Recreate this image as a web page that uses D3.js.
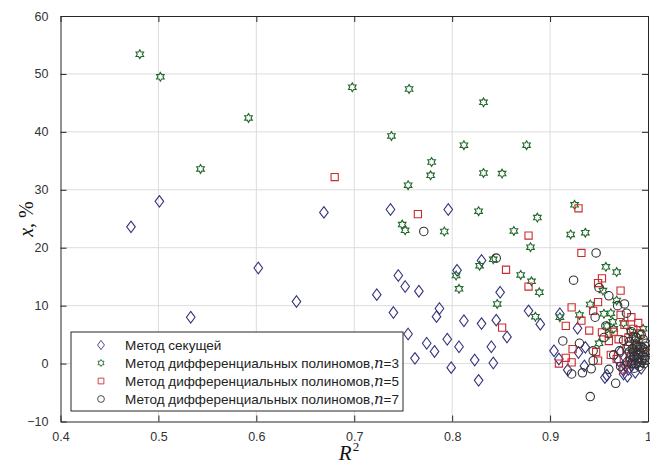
<!DOCTYPE html>
<html>
<head>
<meta charset="utf-8">
<script src="https://cdn.jsdelivr.net/npm/d3@7"></script>
<style>
  body { margin: 0; background: #fff; }
  svg { display: block; }
  .tick text { font-family: "Liberation Sans", Arial, sans-serif; font-size: 12.5px; fill: #333; }
</style>
</head>
<body>
<svg id="chart" width="650" height="468"></svg>
<script>
/*globals d3*/

// Метод секущей (diamonds)
var secantR2 = [0.472, 0.501, 0.533, 0.602, 0.641, 0.669, 0.723, 0.737, 0.740, 0.745, 0.752, 0.755,
    0.762, 0.766, 0.774, 0.782, 0.784, 0.787, 0.795, 0.796, 0.799, 0.805, 0.807, 0.812, 0.823, 0.827,
    0.830, 0.830, 0.840, 0.842, 0.845, 0.849, 0.856, 0.878, 0.890, 0.904, 0.909, 0.910, 0.918, 0.928,
    0.929, 0.935, 0.936, 0.956, 0.958, 0.970, 0.975, 0.977, 0.980, 0.982, 0.984, 0.987, 0.988, 0.990,
    0.993, 0.996, 0.972, 0.974, 0.979, 0.983, 0.985];
var secantX = [23.6, 28.0, 8.0, 16.5, 10.7, 26.1, 11.9, 26.6, 8.8, 15.2, 13.3, 5.1,
    0.9, 12.5, 3.5, 2.1, 8.1, 9.5, 4.2, 26.6, -0.7, 16.1, 2.9, 7.4, 0.6, -2.9,
    6.9, 17.8, 2.9, 0.1, 7.5, 12.3, 4.6, 9.1, 6.8, 2.2, 0.8, 8.6, -1.1, 6.1,
    1.9, -0.4, 2.8, -2.4, -2.0, 0.5, -1.8, -0.4, -1.0, 1.5, 0.5, -1.5, 2.0, 0.2,
    -0.8, 1.0, 2.0, -1.0, -2.2, -0.3, 1.2];

// n = 3 (hexagrams)
var poly3R2 = [0.481, 0.502, 0.543, 0.592, 0.698, 0.738, 0.749, 0.752, 0.755, 0.756, 0.778, 0.779,
    0.792, 0.804, 0.807, 0.812, 0.827, 0.828, 0.832, 0.832, 0.842, 0.846, 0.851, 0.863, 0.870, 0.876,
    0.880, 0.881, 0.885, 0.887, 0.889, 0.910, 0.921, 0.925, 0.930, 0.936, 0.941, 0.950, 0.954, 0.955,
    0.957, 0.960, 0.962, 0.965, 0.968, 0.968, 0.975, 0.982, 0.985, 0.990, 0.995, 0.958, 0.964];
var poly3X = [53.4, 49.5, 33.6, 42.4, 47.7, 39.3, 24.0, 23.0, 30.8, 47.4, 32.5, 34.8,
    22.8, 15.2, 12.9, 37.7, 26.3, 16.9, 45.1, 32.9, 18.0, 10.3, 32.8, 22.9, 15.3, 37.7,
    20.1, 14.2, 8.1, 25.2, 12.3, 8.0, 22.3, 27.4, 8.4, 22.6, 10.2, 3.5, 12.6, 8.6,
    16.7, 5.0, 8.7, 6.0, 15.8, 10.9, 7.0, 5.5, 2.5, 4.5, 6.0, 6.5, 7.2];

// n = 5 (squares)
var poly5R2 = [0.680, 0.765, 0.851, 0.855, 0.878, 0.878, 0.909, 0.916, 0.916, 0.922, 0.922, 0.923,
    0.929, 0.932, 0.932, 0.940, 0.944, 0.947, 0.949, 0.949, 0.949, 0.953, 0.953, 0.960, 0.965, 0.968,
    0.972, 0.972, 0.976, 0.978, 0.980, 0.983, 0.985, 0.988, 0.990, 0.992, 0.995, 0.962, 0.970, 0.975,
    0.981];
var poly5X = [32.2, 25.8, 6.2, 16.2, 22.1, 13.3, 0.0, 6.5, 1.0, 9.7, 0.2, 2.5,
    26.8, 19.1, 7.4, 5.7, 9.1, 2.0, 0.5, 10.6, 13.9, 14.7, 5.4, 3.9, 5.5, 0.8,
    12.6, 8.4, 6.7, 2.5, 4.5, 8.0, 6.0, 3.0, 7.0, 5.2, 2.0, 1.5, 4.2, -1.0,
    0.5];

// n = 7 (circles)
var poly7R2 = [0.771, 0.845, 0.913, 0.922, 0.924, 0.930, 0.933, 0.941, 0.942, 0.944, 0.944, 0.946,
    0.947, 0.950, 0.955, 0.957, 0.960, 0.960, 0.965, 0.967, 0.969, 0.971, 0.972, 0.975, 0.976, 0.978,
    0.979, 0.980, 0.981, 0.982, 0.983, 0.985, 0.986, 0.987, 0.988, 0.989, 0.990, 0.991, 0.992, 0.993,
    0.994, 0.995, 0.996, 0.997, 0.998, 0.981, 0.984, 0.986, 0.988, 0.990, 0.992, 0.994, 0.996, 0.998,
    0.983, 0.987, 0.991, 0.995, 0.999, 0.985, 0.989, 0.993, 0.997];
var poly7X = [22.8, 18.2, 3.9, -1.8, 14.4, 3.5, -1.6, -5.7, -0.9, 0.5, 2.2, 8.0,
    19.1, 13.1, 4.5, 6.5, 11.7, -1.0, 1.5, -3.4, 10.0, 2.2, -0.5, 4.0, 10.3, 8.7,
    0.3, 3.0, 2.0, 1.0, 5.5, 2.0, -0.8, 0.0, 4.5, 2.8, 1.5, -0.5, 3.0, 5.0,
    0.5, 4.2, 2.5, 1.0, 3.5, 3.8, 2.6, 1.2, 3.2, 0.8, 1.8, 2.8, 0.0, 2.0,
    0.0, 3.9, 2.4, 1.4, 0.6, 4.6, 1.0, 0.2, 3.0];

var xTicks = [0.4, 0.5, 0.6, 0.7, 0.8, 0.9, 1];
var yTicks = [-10, 0, 10, 20, 30, 40, 50, 60];
var legendLabels = ["Метод секущей", "Метод дифференциальных полиномов,", "Метод дифференциальных полиномов,", "Метод дифференциальных полиномов,"];
var legendOrders = [null, 3, 5, 7];

(function () {
    "use strict";

    var svg, plotLeft, plotRight, plotTop, plotBottom, x, y, shapes, series, lg;

    function hexagram(r) {
        var pts = d3.range(12).map(function (i) {
            var a = -Math.PI / 2 + i * Math.PI / 6,
                rr = i % 2 === 0 ? r : r / Math.sqrt(3);
            return [rr * Math.cos(a), rr * Math.sin(a)];
        });
        return "M" + pts.join("L") + "Z";
    }

    shapes = {
        diamond: "M0,-5.8L4.3,0L0,5.8L-4.3,0Z",
        star: hexagram(4.4),
        square: "M-3.6,-3.6L3.6,-3.6L3.6,3.6L-3.6,3.6Z",
        circle: d3.symbol(d3.symbolCircle, 56)()
    };

    series = [
        {r2: secantR2, x: secantX, shape: "diamond", color: "#34347e"},
        {r2: poly3R2, x: poly3X, shape: "star", color: "#1f6a2a"},
        {r2: poly5R2, x: poly5X, shape: "square", color: "#cc2a30"},
        {r2: poly7R2, x: poly7X, shape: "circle", color: "#333333"}
    ];

    svg = d3.select("#chart");
    plotLeft = 60.5;
    plotRight = 648;
    plotTop = 16;
    plotBottom = 421.5;

    x = d3.scaleLinear().domain([0.4, 1]).range([plotLeft, plotRight]);
    y = d3.scaleLinear().domain([-10, 60]).range([plotBottom, plotTop]);

    // grid
    svg.append("g").selectAll("line").data(xTicks.slice(1, -1)).enter().append("line")
        .attr("x1", function (d) { return x(d); }).attr("x2", function (d) { return x(d); })
        .attr("y1", plotTop).attr("y2", plotBottom)
        .attr("stroke", "#dcdcdc").attr("stroke-width", 1);
    svg.append("g").selectAll("line").data(yTicks.slice(1, -1)).enter().append("line")
        .attr("y1", function (d) { return y(d); }).attr("y2", function (d) { return y(d); })
        .attr("x1", plotLeft).attr("x2", plotRight)
        .attr("stroke", "#dcdcdc").attr("stroke-width", 1);

    // axes, box on
    svg.append("g").attr("transform", "translate(0," + plotBottom + ")")
        .call(d3.axisBottom(x).tickValues(xTicks).tickSizeInner(-6).tickSizeOuter(0).tickPadding(11)
            .tickFormat(function (d) { return d === 1 ? "1" : d3.format(".1f")(d); }));
    svg.append("g").attr("transform", "translate(" + plotLeft + ",0)")
        .call(d3.axisLeft(y).tickValues(yTicks).tickSizeInner(-6).tickSizeOuter(0).tickPadding(12));
    svg.append("g").attr("transform", "translate(0," + plotTop + ")")
        .call(d3.axisTop(x).tickValues(xTicks).tickSizeInner(-6).tickSizeOuter(0).tickFormat(""));
    svg.append("g").attr("transform", "translate(" + plotRight + ",0)")
        .call(d3.axisRight(y).tickValues(yTicks).tickSizeInner(-6).tickSizeOuter(0).tickFormat(""));
    svg.selectAll(".domain").attr("stroke", "#262626");
    svg.selectAll(".tick line").attr("stroke", "#262626");

    // points
    series.forEach(function (s) {
        svg.append("g").selectAll("path").data(d3.range(s.r2.length)).enter().append("path")
            .attr("d", shapes[s.shape])
            .attr("transform", function (i) { return "translate(" + x(s.r2[i]) + "," + y(s.x[i]) + ")"; })
            .attr("fill", "none")
            .attr("stroke", s.color)
            .attr("stroke-width", 1.1);
    });

    // legend
    lg = svg.append("g");
    lg.append("rect").attr("x", 71).attr("y", 332).attr("width", 332).attr("height", 79)
        .attr("fill", "#fff").attr("stroke", "#262626").attr("stroke-width", 1);
    series.forEach(function (s, i) {
        var cy = 345 + i * 18,
            t;
        lg.append("path").attr("d", shapes[s.shape])
            .attr("transform", "translate(101," + cy + ") scale(0.8)")
            .attr("fill", "none").attr("stroke", s.color).attr("stroke-width", 1.1);
        t = lg.append("text").attr("x", 125).attr("y", cy + 4.5)
            .attr("font-family", "'Liberation Sans', Arial, sans-serif")
            .attr("font-size", 13.5).attr("fill", "#222")
            .text(legendLabels[i]);
        if (legendOrders[i] !== null) {
            t.append("tspan").attr("font-family", "'DejaVu Serif', serif").attr("font-style", "italic")
                .attr("font-size", 15).text("n");
            t.append("tspan").text("=" + legendOrders[i]);
        }
    });

    // axis titles
    svg.append("text").attr("transform", "translate(33,219) rotate(-90)")
        .attr("text-anchor", "middle")
        .attr("font-family", "'Liberation Serif', serif").attr("font-size", 20).attr("fill", "#111")
        .call(function (t) {
            t.append("tspan").attr("font-style", "italic").text("x");
            t.append("tspan").text(", %");
        });
    svg.append("text").attr("x", 349).attr("y", 460)
        .attr("text-anchor", "middle")
        .attr("font-family", "'Liberation Serif', serif").attr("font-size", 21).attr("fill", "#111")
        .call(function (t) {
            t.append("tspan").attr("font-style", "italic").text("R");
            t.append("tspan").attr("font-size", 13).attr("dy", -9).attr("dx", 1).text("2");
        });
}());
</script>
</body>
</html>
